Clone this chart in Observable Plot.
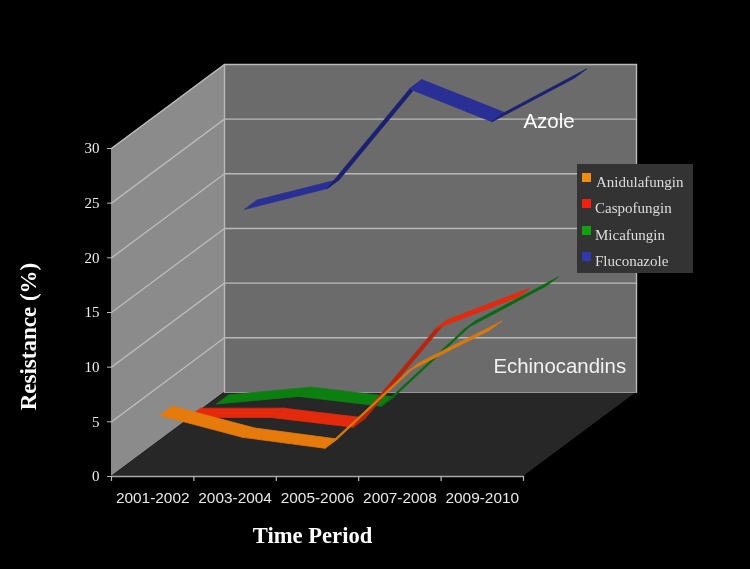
<!DOCTYPE html>
<html>
<head>
<meta charset="utf-8">
<style>
html,body{margin:0;padding:0;background:#000;}
#wrap{position:relative;width:750px;height:569px;overflow:hidden;filter:blur(0.4px);}
#legend{position:absolute;left:577px;top:164px;width:116px;height:109px;background:#333;box-sizing:border-box;}
#legend .row{position:absolute;left:0;right:0;height:20px;font:15px "Liberation Serif",serif;color:#ddd;line-height:20px;white-space:nowrap;}
#legend .sw{position:absolute;left:5px;top:1px;width:9px;height:9px;}
#legend .lb{position:absolute;left:18px;top:0;}
</style>
<script src="https://cdn.jsdelivr.net/npm/d3@7"></script>
<script src="https://cdn.jsdelivr.net/npm/@observablehq/plot@0.6"></script>
</head>
<body>
<div id="wrap"></div>
<script>
const categories = ["2001-2002","2003-2004","2005-2006","2007-2008","2009-2010"];
const valueTicks = [0,5,10,15,20,25,30];
const anidulafungin = [5.0,3.0,2.0,9.0,12.8];
const caspofungin   = [2.9,2.9,2.0,11.0,13.9];
const micafungin    = [2.2,2.9,2.0,9.0,13.0];
const fluconazole   = [18.1,20.0,29.1,26.1,30.1];
const seriesNames = ["Anidulafungin","Caspofungin","Micafungin","Fluconazole"];
const seriesValues = [anidulafungin,caspofungin,micafungin,fluconazole];
const seriesColors = ["#e67a0a","#e42a0c","#0b7f10","#2a2f96"];
const steepColors  = ["#d9780f","#b5260f","#0a6a10","#1c2070"];
const legendColors = ["#f08c10","#f0200c","#10a010","#3038b0"];

// oblique projection: depth 0..1 shifts a point, in data units, along the side walls
const depthX = 113 / 82.4;
const depthY = 84 / 10.93;
const px = (c, d) => c + d * depthX;
const py = (v, d) => v + d * depthY;
const nCat = categories.length;
const yMax = valueTicks[valueTicks.length - 1];

const band = (a, b, fill) => Plot.area([a, b], {x1: d => d[0], y1: d => d[1], x2: d => d[2], y2: d => d[3], fill});

const backWall = band([px(0,1),py(0,1),px(0,1),py(yMax,1)], [px(nCat,1),py(0,1),px(nCat,1),py(yMax,1)], "#6b6b6b");
const leftWall = band([px(0,0),py(0,0),px(0,0),py(yMax,0)], [px(0,1),py(0,1),px(0,1),py(yMax,1)], "#8b8b8b");
const floor = band([px(0,0),py(0,0),px(nCat,0),py(0,0)], [px(0,1),py(0,1),px(nCat,1),py(0,1)], "#272727");

const gridRows = valueTicks.filter(v => v > 0).map(v => [
  {x:px(0,0),y:py(v,0)},{x:px(0,1),y:py(v,1)},{x:px(nCat,1),y:py(v,1)}
]);
const gridMarks = gridRows.map(r => Plot.line(r, {x:"x", y:"y", stroke:"#b9b9b9", strokeWidth:1.4}));
const edgeMarks = [
  Plot.line([{x:px(0,1),y:py(0,1)},{x:px(0,1),y:py(yMax,1)}], {x:"x",y:"y",stroke:"#b9b9b9",strokeWidth:1.4}),
  Plot.line([{x:px(nCat,1),y:py(0,1)},{x:px(nCat,1),y:py(yMax,1)}], {x:"x",y:"y",stroke:"#b9b9b9",strokeWidth:1.4}),
  Plot.line([{x:px(0,1),y:py(0,1)},{x:px(nCat,1),y:py(0,1)}], {x:"x",y:"y",stroke:"#9a9a9a",strokeWidth:1}),
  Plot.line([{x:0,y:0},{x:nCat,y:0}], {x:"x",y:"y",stroke:"#a8a8a8",strokeWidth:1.4})
];

// each series is a ribbon in its own depth slot, drawn back to front
const ribbonMarks = [];
for (let s = seriesValues.length - 1; s >= 0; s--) {
  const d0 = 0.07 + 0.25 * s, d1 = d0 + 0.11;
  const vals = seriesValues[s];
  for (let i = 0; i < vals.length - 1; i++) {
    const steep = vals[i+1] - vals[i] > 3;
    const rows = [i, i+1].map(k => ({
      x1: px(k + 0.5, d0), y1: py(vals[k], d0),
      x2: px(k + 0.5, d1), y2: py(vals[k], d1)
    }));
    ribbonMarks.push(Plot.area(rows, {x1:"x1", y1:"y1", x2:"x2", y2:"y2",
      fill: steep ? steepColors[s] : seriesColors[s],
      stroke: steep ? steepColors[s] : seriesColors[s], strokeWidth: 0.8}));
  }
}

const tickPositions = d3.range(nCat + 1);
const sans = "'Liberation Sans',Arial,sans-serif";
const serif = "'Liberation Serif','Times New Roman',serif";

const chart = Plot.plot({
  width: 750, height: 569,
  marginLeft: 111, marginRight: 227, marginTop: 148, marginBottom: 93,
  style: {background:"#000", color:"#e6e6e6"},
  x: {type:"linear", domain:[0,nCat], axis:null},
  y: {type:"linear", domain:[0,yMax], axis:null},
  marks: [
    backWall, leftWall, floor,
    ...gridMarks, ...edgeMarks,
    ...ribbonMarks,
    Plot.axisY({ticks: valueTicks, tickSize:4, tickPadding:8, label:null, stroke:"#bbb", fill:"#eee", fontSize:15, fontFamily:serif}),
    Plot.ruleX(tickPositions, {x:d=>d, y1:0, y2:-0.45, stroke:"#bbb", strokeWidth:1.2}),
    Plot.text(categories, {x:(d,i)=>i+0.5, y:0, dy:22, text:d=>d, fill:"#e8e8e8", fontSize:15.4, fontFamily:sans}),
    Plot.text(["Time Period"], {x:2.44, y:0, dy:59, text:d=>d, fill:"#fff", fontSize:22.6, fontWeight:"bold", fontFamily:serif}),
    Plot.text(["Resistance (%)"], {x:-1.0, y:12.8, text:d=>d, rotate:-90, fill:"#fff", fontSize:23, fontWeight:"bold", fontFamily:serif}),
    Plot.text(["Azole"], {x:5.31, y:32.5, text:d=>d, fill:"#fff", fontSize:20.5, fontFamily:sans}),
    Plot.text(["Echinocandins"], {x:5.44, y:10.1, text:d=>d, fill:"#f2f2f2", fontSize:20.4, fontFamily:sans})
  ]
});
const wrap = document.getElementById("wrap");
wrap.appendChild(chart);

const legend = document.createElement("div");
legend.id = "legend";
seriesNames.forEach((name,i) => {
  const row = document.createElement("div");
  row.className = "row";
  row.style.top = (8 + i * 26.4) + "px";
  const sw = document.createElement("div");
  sw.className = "sw";
  sw.style.background = legendColors[i];
  const lb = document.createElement("div");
  lb.className = "lb";
  lb.textContent = name;
  lb.style.left = i === 0 ? "19px" : "18px";
  row.append(sw, lb);
  legend.appendChild(row);
});
wrap.appendChild(legend);
</script>
</body>
</html>
